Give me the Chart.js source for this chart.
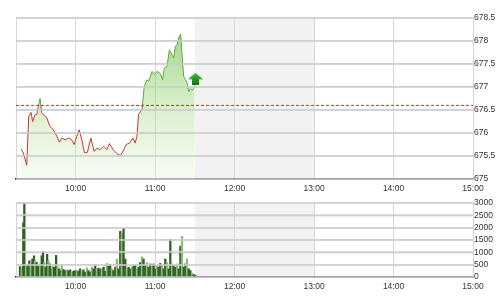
<!DOCTYPE html>
<html>
<head>
<meta charset="utf-8">
<script src="https://cdn.jsdelivr.net/npm/chart.js@4.4.1/dist/chart.umd.min.js"></script>
<style>
  html, body { margin: 0; padding: 0; background: #fff; }
  canvas { display: block; }
</style>
</head>
<body>
<canvas id="priceChart" width="501" height="197"></canvas>
<canvas id="volChart" width="501" height="103"></canvas>
<script>
// times are minutes since midnight (555 = 9:15, 900 = 15:00)
const priceTimes = [558.8, 560.5, 563.1, 564.6, 566.3, 567.6, 569.4, 570.7, 571.9, 573.2,
  574.4, 575.7, 578.2, 580.7, 583.2, 585.8, 587.8, 589.6, 592.1, 594.6,
  597.1, 598.9, 600.9, 602.7, 604.7, 606.7, 608.9, 611.5, 614.0, 616.1,
  618.6, 621.1, 623.6, 625.6, 628.2, 631.2, 633.7, 635.7, 638.2, 640.7,
  643.3, 645.0, 646.3, 647.5, 650.1, 651.8, 653.9, 655.1, 657.7, 659.4,
  661.5, 664.0, 665.7, 667.0, 669.0, 670.8, 672.8, 674.0, 675.3, 676.5,
  678.3, 679.3, 680.4, 681.6, 682.9, 684.2, 685.4, 686.6, 688.4, 689.9];
const priceValues = [675.65, 675.57, 675.30, 676.36, 676.45, 676.25, 676.40, 676.40, 676.58, 676.75,
  676.43, 676.40, 676.33, 676.14, 676.07, 675.93, 675.80, 675.89, 675.85, 675.89,
  675.85, 675.75, 675.93, 676.07, 675.85, 675.57, 675.58, 675.89, 675.60, 675.67,
  675.64, 675.71, 675.64, 675.77, 675.64, 675.55, 675.51, 675.60, 675.75, 675.78,
  675.89, 675.78, 675.93, 676.40, 676.51, 677.01, 677.16, 677.12, 677.34, 677.27,
  677.34, 677.29, 677.16, 677.41, 677.45, 677.81, 677.70, 677.63, 677.88, 677.92,
  678.10, 678.15, 677.67, 677.23, 677.16, 677.09, 676.90, 676.96, 676.94, 677.03];

const volTimes = [558.0, 559.3, 560.5, 561.3, 562.6, 563.8, 565.1, 566.1, 567.4, 568.6,
  569.4, 570.6, 571.9, 573.2, 574.4, 575.4, 576.4, 577.4, 578.5, 579.5,
  580.5, 581.5, 582.5, 583.7, 585.3, 586.3, 587.5, 588.8, 589.6, 590.8,
  592.1, 593.3, 594.6, 595.9, 597.1, 598.4, 599.6, 600.9, 602.2, 603.4,
  604.7, 605.9, 607.2, 608.5, 609.7, 611.0, 612.2, 613.5, 614.8, 616.0,
  617.3, 618.6, 619.8, 621.1, 622.3, 623.6, 624.9, 626.1, 627.4, 628.6,
  629.9, 631.2, 632.4, 633.7, 634.9, 636.2, 637.5, 638.7, 640.0, 641.2,
  642.5, 643.8, 645.0, 646.3, 647.6, 648.8, 650.1, 651.3, 652.6, 653.9,
  655.1, 656.4, 657.6, 658.9, 660.2, 661.4, 662.7, 663.9, 665.2, 666.5,
  667.7, 669.0, 670.3, 671.5, 672.8, 674.0, 675.3, 676.6, 677.8, 679.1,
  680.3, 681.6, 682.9, 684.1, 685.4, 686.6, 687.9, 689.2, 690.4];
const volValues = [420, 400, 2200, 3000, 500, 460, 660, 550, 730, 860,
  660, 590, 460, 530, 860, 1030, 590, 400, 920, 660,
  530, 330, 460, 400, 880, 420, 330, 260, 500, 300,
  260, 290, 260, 290, 200, 240, 260, 260, 240, 330,
  240, 290, 200, 370, 260, 200, 400, 330, 460, 330,
  360, 330, 330, 400, 240, 550, 460, 500, 330, 260,
  400, 730, 330, 1850, 1780, 1980, 730, 330, 400, 330,
  400, 460, 460, 330, 400, 590, 820, 730, 460, 590,
  400, 530, 460, 530, 330, 460, 400, 550, 460, 330,
  730, 590, 330, 1520, 530, 460, 400, 530, 330, 1250,
  1650, 400, 530, 730, 330, 260, 160, 100, 70];

const refPrice = 676.6;
const breakStart = 690;   // 11:30
const breakEnd = 780;     // 13:00
const arrowTime = 690.5;
const arrowValue = 677.18;
const timeTicks = [555, 600, 660, 720, 780, 840, 900];
const priceStep = 0.5;
const volStep = 500;

const font = { family: "Liberation Sans, Arial, sans-serif", size: 8.5 };
const gridColor = "#d6d6d6";

function fmtTime(v) {
  if (v === timeTicks[0]) return "";
  const h = Math.floor(v / 60);
  const m = v % 60;
  return h + ":" + String(m).padStart(2, "0");
}

// grey block for the lunch break, drawn under the grid
const breakShade = {
  id: "breakShade",
  beforeDraw(chart) {
    const { ctx, chartArea, scales } = chart;
    const x1 = scales.x.getPixelForValue(breakStart);
    const x2 = scales.x.getPixelForValue(breakEnd);
    ctx.save();
    ctx.fillStyle = "#f2f2f2";
    ctx.fillRect(x1, chartArea.top, x2 - x1, chartArea.bottom - chartArea.top);
    ctx.restore();
  },
};

// horizontal grid lines, stroked once the chart is drawn
const hGrid = {
  id: "hGrid",
  afterDraw(chart) {
    const { ctx, chartArea, scales } = chart;
    ctx.save();
    ctx.strokeStyle = "#cfcfcf";
    ctx.lineWidth = 1.5;
    scales.y.ticks.forEach((t) => {
      const py = Math.round(scales.y.getPixelForValue(t.value));
      ctx.beginPath();
      ctx.moveTo(chartArea.left, py);
      ctx.lineTo(chartArea.right, py);
      ctx.stroke();
    });
    ctx.restore();
  },
};

// small green up arrow used as point style
function makeArrow() {
  const c = document.createElement("canvas");
  c.width = 15;
  c.height = 12;
  const g = c.getContext("2d");
  const grad = g.createLinearGradient(0, 0, 0, 12);
  grad.addColorStop(0, "#3fbf3a");
  grad.addColorStop(1, "#16700f");
  g.fillStyle = grad;
  g.beginPath();
  g.moveTo(7.5, 0);
  g.lineTo(15, 6.5);
  g.lineTo(11, 6.5);
  g.lineTo(11, 12);
  g.lineTo(4, 12);
  g.lineTo(4, 6.5);
  g.lineTo(0, 6.5);
  g.closePath();
  g.fill();
  return c;
}

function xScale(height) {
  return {
    type: "linear",
    offset: false,
    min: timeTicks[0],
    max: timeTicks[timeTicks.length - 1],
    afterBuildTicks: (s) => { s.ticks = timeTicks.map((v) => ({ value: v })); },
    afterFit: (s) => { s.height = height; },
    grid: { color: gridColor, lineWidth: 1, drawTicks: false, offset: false },
    border: { color: "#222", width: 1.5 },
    ticks: {
      autoSkip: false, maxRotation: 0, padding: 5,
      color: "#333", font: font,
      callback: (v) => fmtTime(v),
    },
  };
}

function yScale(min, max, step) {
  return {
    position: "right",
    min: min,
    max: max,
    afterFit: (s) => { s.width = 28; },
    grid: { color: "#d8d8d8", lineWidth: 1.5, drawTicks: false },
    border: { color: gridColor },
    ticks: { stepSize: step, autoSkip: false, padding: 1, color: "#333", font: font, callback: (v) => String(v) },
  };
}

function lineGradient(ctxArg, above, below) {
  const chart = ctxArg.chart;
  const area = chart.chartArea;
  if (!area) return above;
  const yRef = chart.scales.y.getPixelForValue(refPrice);
  const t = Math.min(Math.max((yRef - area.top) / (area.bottom - area.top), 0), 1);
  const g = chart.ctx.createLinearGradient(0, area.top, 0, area.bottom);
  g.addColorStop(0, above);
  g.addColorStop(t, above);
  g.addColorStop(t, below);
  g.addColorStop(1, below);
  return g;
}

function fillGradient(ctxArg) {
  const chart = ctxArg.chart;
  const area = chart.chartArea;
  if (!area) return "rgba(150,210,120,0.4)";
  const g = chart.ctx.createLinearGradient(0, area.top, 0, area.bottom);
  g.addColorStop(0, "rgba(110,190,70,0.75)");
  g.addColorStop(0.45, "rgba(160,215,125,0.5)");
  g.addColorStop(1, "rgba(225,243,212,0.3)");
  return g;
}

new Chart(document.getElementById("priceChart"), {
  type: "line",
  data: {
    datasets: [
      {
        data: priceTimes.map((t, i) => ({ x: t, y: priceValues[i] })),
        borderColor: (c) => lineGradient(c, "#5aab3c", "#c8383a"),
        backgroundColor: fillGradient,
        borderWidth: 1,
        fill: "start",
        pointRadius: 0,
        tension: 0,
        order: 2,
      },
      {
        data: [{ x: timeTicks[0], y: refPrice }, { x: timeTicks[timeTicks.length - 1], y: refPrice }],
        borderColor: "#f01c1c",
        borderWidth: 1,
        borderDash: [3, 2],
        pointRadius: 0,
        fill: false,
        order: 1,
      },
      {
        type: "scatter",
        data: [{ x: arrowTime, y: arrowValue }],
        pointStyle: makeArrow(),
        pointRadius: 7,
        order: 0,
      },
    ],
  },
  options: {
    responsive: false,
    animation: false,
    layout: { padding: { left: 16, top: 18, right: 0, bottom: 0 } },
    plugins: { legend: { display: false }, tooltip: { enabled: false } },
    scales: {
      x: xScale(18),
      y: yScale(675, 678.5, priceStep),
    },
  },
  plugins: [breakShade, hGrid],
});

new Chart(document.getElementById("volChart"), {
  type: "bar",
  data: {
    datasets: [
      {
        data: volTimes.map((t, i) => ({ x: t, y: volValues[i] })),
        backgroundColor: (c) => (c.dataIndex % 3 === 1 ? "#8fb97c" : "#2f6024"),
        barThickness: 1.6,
      },
    ],
  },
  options: {
    responsive: false,
    animation: false,
    layout: { padding: { left: 16, top: 4, right: 0, bottom: 0 } },
    plugins: { legend: { display: false }, tooltip: { enabled: false } },
    scales: {
      x: xScale(23),
      y: yScale(0, 3000, volStep),
    },
  },
  plugins: [breakShade, hGrid],
});
</script>
</body>
</html>
